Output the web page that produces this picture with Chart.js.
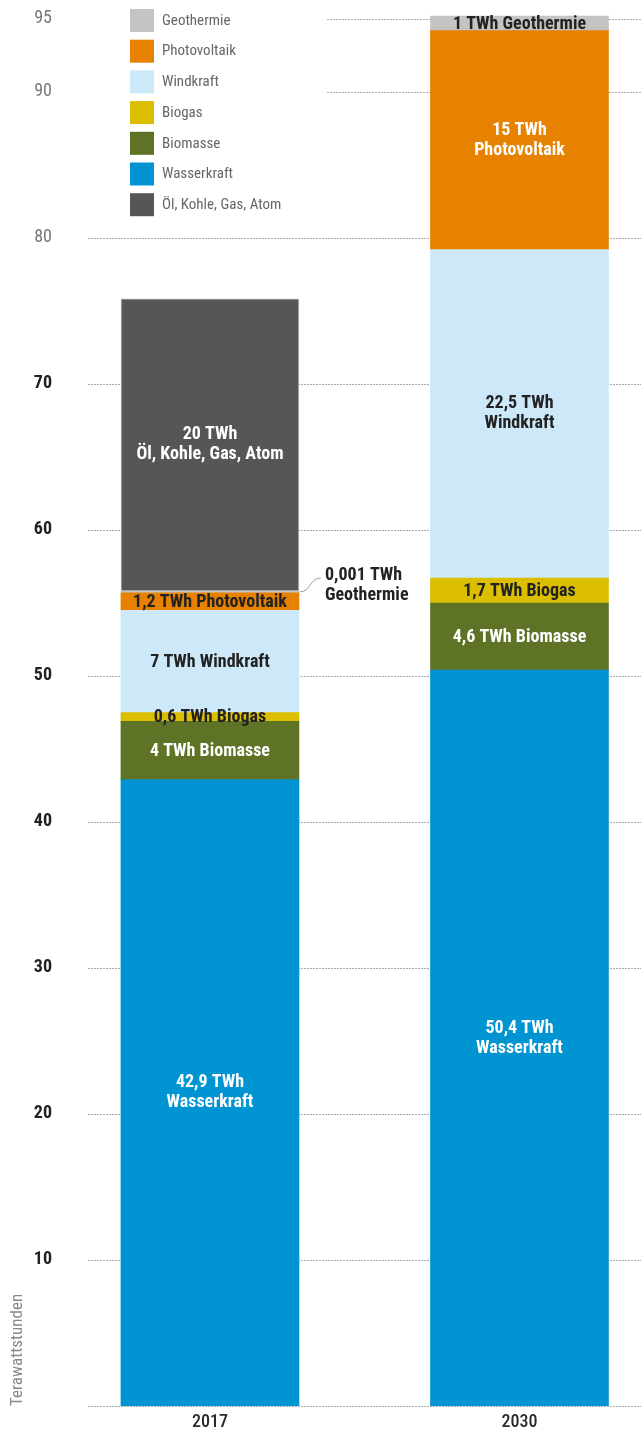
<!DOCTYPE html>
<html>
<head>
<meta charset="utf-8">
<script src="https://cdn.jsdelivr.net/npm/chart.js@4.4.1/dist/chart.umd.min.js"></script>
<style>
  html, body { margin: 0; padding: 0; background: #fff; }
  canvas { display: block; }
</style>
</head>
<body>
<canvas id="grafico" width="641" height="1434"></canvas>
<script>
// Datos (TWh)
let years = ['2017', '2030'];
let seriesNames = ['Wasserkraft', 'Biomasse', 'Biogas', 'Windkraft', 'Photovoltaik', 'Geothermie', 'Öl, Kohle, Gas, Atom'];
let wasserkraft = [42.9, 50.4];
let biomasse = [4, 4.6];
let biogas = [0.6, 1.7];
let windkraft = [7, 22.5];
let photovoltaik = [1.2, 15];
let geothermie = [0.001, 1];
let fossil = [20, null];
let yTicks = [10, 20, 30, 40, 50, 60, 70, 80, 90, 95];
let legendOrder = ['Geothermie', 'Photovoltaik', 'Windkraft', 'Biogas', 'Biomasse', 'Wasserkraft', 'Öl, Kohle, Gas, Atom'];
let yTitle = 'Terawattstunden';

let seriesValues = [wasserkraft, biomasse, biogas, windkraft, photovoltaik, geothermie, fossil];
let colores = ['#0094d3', '#5f7326', '#dbbe00', '#cde8f8', '#e68200', '#c4c4c4', '#565656'];
let textColors = ['#fff', '#fff', '#222', '#222', '#fff', '#222', '#fff'];

const FONT = "'Roboto Condensed', 'Liberation Sans Narrow', 'DejaVu Sans Condensed', Roboto, sans-serif";

function tickVal(ctx) {
  return ctx.tick ? ctx.tick.value : 0;
}

// lineas de la rejilla (punteadas); 90 y 95 empiezan despues de la leyenda
const rejilla = {
  id: 'rejilla',
  beforeDatasetsDraw(chart) {
    const { ctx, chartArea, scales: { y } } = chart;
    ctx.save();
    ctx.strokeStyle = '#aaa';
    ctx.lineWidth = 1;
    ctx.setLineDash([2, 1]);
    [0].concat(yTicks).forEach(v => {
      const py = Math.round(y.getPixelForValue(v)) + 0.5;
      const x0 = v > 85 ? chartArea.left + 239 : chartArea.left;
      ctx.beginPath();
      ctx.moveTo(x0, py);
      ctx.lineTo(chartArea.right, py);
      ctx.stroke();
    });
    ctx.restore();
  }
};

// textos dentro de las barras
const etiquetas = {
  id: 'etiquetas',
  afterDatasetsDraw(chart) {
    const ctx = chart.ctx;
    ctx.save();
    ctx.font = 'bold 18px ' + FONT;
    ctx.textBaseline = 'middle';
    chart.data.datasets.forEach((ds, i) => {
      const meta = chart.getDatasetMeta(i);
      meta.data.forEach((el, j) => {
        const v = ds.data[j].y;
        if (v == null) return;
        const alto = el.base - el.y;
        const num = String(v).replace('.', ',') + ' TWh';
        const yc = (el.y + el.base) / 2;
        if (v < 0.01) {
          // valor minimo: nota fuera de la barra
          const xr = el.x + el.width / 2;
          ctx.strokeStyle = '#999';
          ctx.lineWidth = 1;
          ctx.beginPath();
          ctx.moveTo(xr + 1, yc);
          ctx.bezierCurveTo(xr + 12, yc, xr + 10, yc - 13, xr + 22, yc - 14);
          ctx.stroke();
          ctx.textAlign = 'left';
          ctx.fillStyle = '#222';
          ctx.fillText(num, xr + 26, yc - 16);
          ctx.fillText(ds.label, xr + 26, yc + 4);
          return;
        }
        ctx.textAlign = 'center';
        ctx.fillStyle = alto < 25 ? '#222' : textColors[i];
        if (alto > 150) {
          ctx.fillText(num, el.x, yc - 10);
          ctx.fillText(ds.label, el.x, yc + 10);
        } else {
          ctx.fillText(num + ' ' + ds.label, el.x, yc + 1);
        }
      });
    });
    ctx.restore();
  }
};

// leyenda arriba a la izquierda
const leyenda = {
  id: 'leyenda',
  afterDraw(chart) {
    const { ctx, chartArea } = chart;
    ctx.save();
    ctx.font = '15px ' + FONT;
    ctx.textAlign = 'left';
    ctx.textBaseline = 'middle';
    legendOrder.forEach((name, k) => {
      const i = seriesNames.indexOf(name);
      const x = chartArea.left + 42;
      const y = 9 + k * 30.7;
      ctx.fillStyle = colores[i];
      ctx.fillRect(x, y, 24, 23);
      ctx.fillStyle = '#666';
      ctx.fillText(name, x + 32, y + 12);
    });
    ctx.restore();
  }
};

let datasets = seriesNames.map((name, i) => ({
  label: name,
  data: seriesValues[i].map((v, j) => ({ x: j, y: v })),
  backgroundColor: colores[i],
  borderColor: i === 6 ? '#c0c0c0' : colores[i],
  borderWidth: i === 6 ? 1 : 0,
  minBarLength: i === 5 ? 2 : 0,
  barThickness: 178
}));

new Chart(document.getElementById('grafico'), {
  type: 'bar',
  data: { datasets: datasets },
  options: {
    responsive: false,
    animation: false,
    layout: { padding: 0 },
    plugins: {
      legend: { display: false },
      tooltip: { enabled: false }
    },
    scales: {
      x: {
        type: 'linear',
        stacked: true,
        offset: false,
        min: -0.394,
        max: 1.3926,
        grid: { display: false, drawTicks: false },
        border: { display: false },
        afterBuildTicks: s => { s.ticks = years.map((yr, i) => ({ value: i })); },
        afterFit: s => { s.height = 28; s.paddingLeft = 0; s.paddingRight = 0; },
        ticks: {
          callback: v => years[v],
          color: '#2a2a2a',
          padding: 6,
          font: { family: FONT, size: 18, weight: '500' }
        }
      },
      y: {
        stacked: true,
        min: 0,
        max: 96.3,
        grid: { display: false, drawTicks: false },
        border: { display: false },
        afterBuildTicks: s => { s.ticks = yTicks.map(v => ({ value: v })); },
        afterFit: s => { s.width = 88; s.paddingTop = 0; s.paddingBottom = 0; },
        ticks: {
          padding: 36,
          color: ctx => tickVal(ctx) >= 80 ? '#777' : '#222',
          font: ctx => ({ family: FONT, size: 18, weight: tickVal(ctx) >= 80 ? 'normal' : 'bold' })
        },
        title: {
          display: true,
          text: yTitle,
          align: 'start',
          color: '#888',
          font: { family: FONT, size: 17 },
          padding: { top: 8, bottom: 0 }
        }
      }
    }
  },
  plugins: [rejilla, etiquetas, leyenda]
});
</script>
</body>
</html>
